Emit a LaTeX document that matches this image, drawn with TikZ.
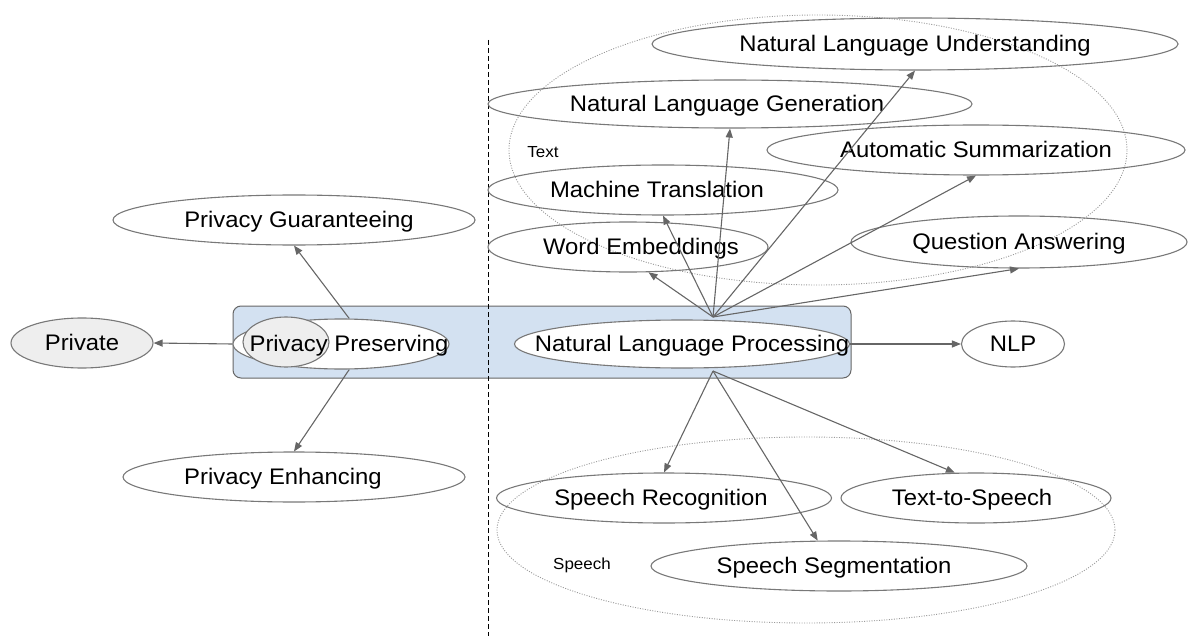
\documentclass[tikz,border=0pt]{standalone}
\usepackage{fontspec}
\setmainfont{Liberation Sans}[FakeStretch=1.06]
\usetikzlibrary{arrows.meta,shapes.geometric}
\definecolor{edge}{HTML}{666666}
\definecolor{rim}{HTML}{787878}
\definecolor{band}{HTML}{D3E1F1}
\definecolor{shade}{HTML}{EEEEEE}
\definecolor{dots}{HTML}{9A9A9A}
% zero-width label with a fixed line box, moved sideways by half of #1
\newcommand\lbl[2]{\makebox[0pt]{\hspace*{#1}\rule[-4.6pt]{0pt}{24.6pt}#2}}

\begin{document}
\begin{tikzpicture}[x=1pt,y=-1pt,
  topic/.style={draw=rim, line width=1.1pt, ellipse, inner sep=0pt,
    font=\fontsize{22.5}{26}\selectfont},
  link/.style={draw=edge, line width=1.1pt, -{Triangle[length=9pt,width=7pt]}},
  group/.style={draw=dots, ellipse, inner sep=0pt, line width=0.9pt,
    dash pattern=on 1pt off 1.5pt},
  grouplabel/.style={font=\fontsize{16}{19}\selectfont, inner sep=0pt},
]
\useasboundingbox (0,0) rectangle (1188,639);

% groups
\node[group, minimum width=618pt, minimum height=270pt] (textgrp) at (818,150) {};
\node[group, minimum width=618pt, minimum height=186pt] (speechgrp) at (806,530) {};
\node[grouplabel] (textlbl) at (543,152) {Text};
\node[grouplabel] (speechlbl) at (582,565) {Speech};

% shared band
\node[draw=edge, line width=1pt, fill=band, rounded corners=8pt, inner sep=0pt,
  minimum width=618pt, minimum height=72pt] (core) at (542,342) {};

% separator
\draw[black, line width=0.8pt, dash pattern=on 5pt off 3pt] (488,40) -- (488,636);

% privacy side
\node[topic, fill=shade, minimum width=142pt, minimum height=50pt] (private) at (82,343) {\lbl{0pt}{Private}};
\node[topic, fill=white, minimum width=216pt, minimum height=50pt] (pp) at (341,344) {};
\node[topic, fill=shade, minimum width=86pt, minimum height=50pt] (ppv) at (286,342) {};
\node[font=\fontsize{22.5}{26}\selectfont, inner sep=0pt] (pptext) at (349,344) {\lbl{0pt}{Privacy Preserving}};
\node[topic, minimum width=362pt, minimum height=50pt] (pg) at (294,220) {\lbl{10pt}{Privacy Guaranteeing}};
\node[topic, minimum width=342pt, minimum height=50pt] (pe) at (294,477) {\lbl{-22pt}{Privacy Enhancing}};

% language side
\node[topic, fill=white, minimum width=335pt, minimum height=48pt] (nlp) at (682,344) {\lbl{20pt}{Natural Language Processing}};
\node[topic, minimum width=103pt, minimum height=46pt] (nlps) at (1013,344) {\lbl{0pt}{NLP}};

\node[topic, minimum width=526pt, minimum height=52pt] (nlu) at (915,44) {\lbl{0pt}{Natural Language Understanding}};
\node[topic, minimum width=484pt, minimum height=48pt] (nlg) at (730,104) {\lbl{-6pt}{Natural Language Generation}};
\node[topic, minimum width=418pt, minimum height=50pt] (as) at (976,150) {\lbl{0pt}{Automatic Summarization}};
\node[topic, minimum width=350pt, minimum height=50pt] (mt) at (663,190) {\lbl{-12pt}{Machine Translation}};
\node[topic, minimum width=280pt, minimum height=50pt] (we) at (628,247) {\lbl{26pt}{Word Embeddings}};
\node[topic, minimum width=336pt, minimum height=52pt] (qa) at (1019,242) {\lbl{0pt}{Question Answering}};

\node[topic, minimum width=335pt, minimum height=50pt] (sr) at (664,498) {\lbl{-6pt}{Speech Recognition}};
\node[topic, minimum width=270pt, minimum height=50pt] (tts) at (976,498) {\lbl{-8pt}{Text-to-Speech}};
\node[topic, minimum width=376pt, minimum height=50pt] (ss) at (839,566) {\lbl{-10pt}{Speech Segmentation}};

% fan-out points on the processing node
\coordinate (fan) at (713,317);
\coordinate (drop) at (713,371);

% connectors
\draw[link] (pp.west) -- (private.east);
\draw[link] (pp.72) -- (pg.south);
\draw[link] (pp.-72) -- (pe.north);
\draw[link] (nlp.east) -- (nlps.west);

\draw[link] (fan) -- (we.-51);
\draw[link] (fan) -- (mt.south);
\draw[link] (fan) -- (nlg.south);
\draw[link] (fan) -- (nlu.south);
\draw[link] (fan) -- (as.south);
\draw[link] (fan) -- (qa.south);

\draw[link] (drop) -- (sr.north);
\draw[link] (drop) -- (ss.130);
\draw[link] (drop) -- (tts.130);
\end{tikzpicture}
\end{document}
